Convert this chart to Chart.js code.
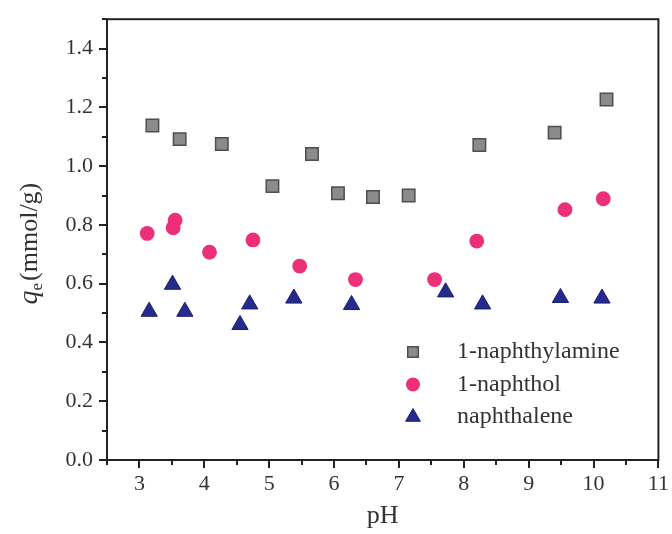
<!DOCTYPE html>
<html>
<head>
<meta charset="utf-8">
<script src="https://cdn.jsdelivr.net/npm/chart.js@4.4.1/dist/chart.umd.min.js"></script>
<style>
  html, body { margin: 0; padding: 0; background: #fff; }
  #wrap { width: 672px; height: 534px; }
</style>
</head>
<body>
<div id="wrap"><canvas id="graph" width="672" height="534"></canvas></div>
<script>
// adsorption capacity vs pH, three sorbates
var amine_pH = [3.2, 3.62, 4.27, 5.05, 5.66, 6.06, 6.6, 7.15, 8.24, 9.4, 10.2];
var amine_qe = [1.138, 1.092, 1.075, 0.932, 1.041, 0.908, 0.895, 0.9, 1.072, 1.114, 1.227];

var naphthol_pH = [3.12, 3.55, 3.52, 4.08, 4.75, 5.47, 6.33, 7.55, 8.2, 9.56, 10.15];
var naphthol_qe = [0.771, 0.816, 0.79, 0.707, 0.749, 0.66, 0.614, 0.614, 0.745, 0.852, 0.889];

var naphthalene_pH = [3.15, 3.51, 3.70, 4.55, 4.70, 5.38, 6.27, 7.72, 8.29, 9.49, 10.13];
var naphthalene_qe = [0.505, 0.597, 0.505, 0.46, 0.53, 0.55, 0.528, 0.571, 0.53, 0.552, 0.55];

var x_min = 2.5, x_max = 11, x_minor = [2.5, 3.5, 4.5, 5.5, 6.5, 7.5, 8.5, 9.5, 10.5];
var y_min = 0, y_max = 1.5, y_minor = [0.1, 0.3, 0.5, 0.7, 0.9, 1.1, 1.3, 1.5];

var SERIF = '"Liberation Serif", "Times New Roman", serif';

function pts(xs, ys) {
    return xs.map(function (x, i) { return { x: x, y: ys[i] }; });
}

// frame, minor ticks, in-plot legend and axis titles
var decor = {
    id: 'decor',
    afterDraw: function (chart) {
        var ctx = chart.ctx;
        var a = chart.chartArea;
        var sx = chart.scales.x, sy = chart.scales.y;
        ctx.save();
        ctx.strokeStyle = '#222';
        ctx.lineWidth = 2;
        ctx.strokeRect(a.left, a.top, a.right - a.left, a.bottom - a.top);

        // minor ticks, shorter than the major ones
        ctx.beginPath();
        x_minor.forEach(function (v) {
            var px = Math.round(sx.getPixelForValue(v));
            ctx.moveTo(px, a.bottom);
            ctx.lineTo(px, a.bottom + 5);
        });
        y_minor.forEach(function (v) {
            var py = Math.round(sy.getPixelForValue(v));
            ctx.moveTo(a.left, py);
            ctx.lineTo(a.left - 5, py);
        });
        ctx.stroke();

        // legend
        ctx.font = '24px ' + SERIF;
        ctx.textBaseline = 'middle';
        ctx.textAlign = 'left';
        chart.data.datasets.forEach(function (ds, i) {
            var y = 352 + i * 32.5;
            ctx.fillStyle = ds.backgroundColor;
            ctx.strokeStyle = ds.borderColor;
            ctx.lineWidth = ds.borderWidth;
            Chart.helpers.drawPoint(ctx, {
                pointStyle: ds.pointStyle,
                radius: ds.legendRadius,
                borderWidth: ds.borderWidth,
                rotation: 0
            }, 413, y);
            ctx.fillStyle = '#333';
            ctx.fillText(ds.label, 457, y);
        });

        // x title
        ctx.font = '26px ' + SERIF;
        ctx.textAlign = 'center';
        ctx.fillStyle = '#333';
        ctx.fillText('pH', (a.left + a.right) / 2, 516);

        // y title: q_e (mmol/g)
        ctx.translate(30, (a.top + a.bottom) / 2 + 4);
        ctx.rotate(-Math.PI / 2);
        var f1 = 'italic 28px ' + SERIF, f2 = '17px ' + SERIF, f3 = '26px ' + SERIF;
        ctx.font = f1; var w1 = ctx.measureText('q').width;
        ctx.font = f2; var w2 = ctx.measureText('e').width;
        ctx.font = f3; var w3 = ctx.measureText('(mmol/g)').width;
        var x0 = -(w1 + w2 + 2 + w3) / 2;
        ctx.textAlign = 'left';
        ctx.font = f1; ctx.fillText('q', x0, 0);
        ctx.font = f2; ctx.fillText('e', x0 + w1, 8);
        ctx.font = f3; ctx.fillText('(mmol/g)', x0 + w1 + w2 + 2, 0);
        ctx.restore();
    }
};

var chart = new Chart('graph', {
    type: 'scatter',
    data: {
        datasets: [{
            label: '1-naphthylamine',
            data: pts(amine_pH, amine_qe),
            pointStyle: 'rect',
            pointRadius: 8.8,
            legendRadius: 7.5,
            backgroundColor: '#8b8b8b',
            borderColor: '#4e4e4e',
            borderWidth: 1.5
        }, {
            label: '1-naphthol',
            data: pts(naphthol_pH, naphthol_qe),
            pointStyle: 'circle',
            pointRadius: 7.4,
            legendRadius: 7,
            backgroundColor: '#ec2f79',
            borderColor: '#ec2f79',
            borderWidth: 0
        }, {
            label: 'naphthalene',
            data: pts(naphthalene_pH, naphthalene_qe),
            pointStyle: 'triangle',
            pointRadius: 9.4,
            legendRadius: 8.5,
            backgroundColor: '#252b8c',
            borderColor: '#1a1f70',
            borderWidth: 1
        }]
    },
    options: {
        responsive: false,
        animation: false,
        layout: { padding: { top: 14, right: 12, left: 0, bottom: 0 } },
        plugins: {
            legend: { display: false },
            tooltip: { enabled: false }
        },
        scales: {
            x: {
                type: 'linear',
                min: x_min,
                max: x_max,
                afterFit: function (s) { s.height = 74; },
                border: { display: false },
                grid: { drawOnChartArea: false, drawTicks: true, tickLength: 8, tickColor: '#222', lineWidth: 2 },
                ticks: {
                    stepSize: 1,
                    includeBounds: false,
                    padding: 3,
                    color: '#333',
                    font: { family: SERIF, size: 22 }
                }
            },
            y: {
                type: 'linear',
                min: y_min,
                max: y_max,
                afterFit: function (s) { s.width = 107; },
                border: { display: false },
                grid: { drawOnChartArea: false, drawTicks: true, tickLength: 8, tickColor: '#222', lineWidth: 2 },
                ticks: {
                    stepSize: 0.2,
                    includeBounds: false,
                    padding: 6,
                    color: '#333',
                    font: { family: SERIF, size: 22 },
                    callback: function (v) { return v.toFixed(1); }
                }
            }
        }
    },
    plugins: [decor]
});
</script>
</body>
</html>
